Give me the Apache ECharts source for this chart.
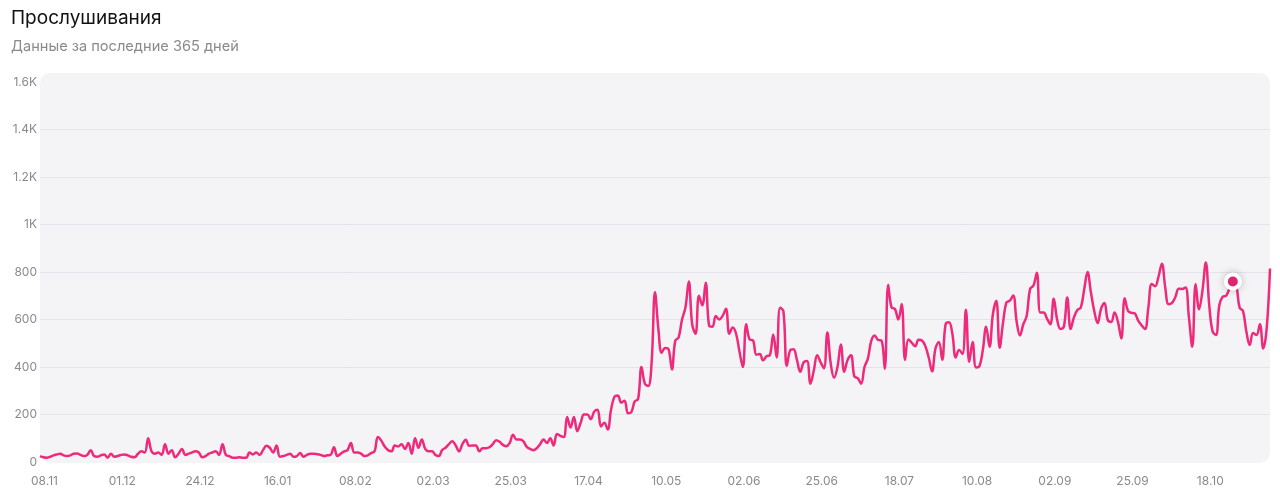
<!DOCTYPE html>
<html>
<head>
<meta charset="utf-8">
<script src="https://cdn.jsdelivr.net/npm/echarts@6/dist/echarts.min.js"></script>
<style>
html,body{margin:0;padding:0;background:#fff;}
#chart{width:1280px;height:498px;}
</style>
</head>
<body>
<div id="chart"></div>
<script>
const titleText = 'Прослушивания';
const subtitleText = 'Данные за последние 365 дней';
const startDate = '2023-11-08';
const dayCount = 365;
const yTicks = [0, 200, 400, 600, 800, 1000, 1200, 1400, 1600];
const highlightIndex = 353;

// daily listens, in blocks of 23 days (one block per x-axis label)
const block01 = [25,20,18,22,28,32,35,28,25,28,35,36,30,25,30,50,25,22,28,32,18,35,22];
const block02 = [25,30,32,28,22,20,35,45,40,100,45,35,40,30,75,35,50,20,35,55,30,35,40];
const block03 = [45,40,20,25,35,40,45,30,75,30,25,18,18,20,18,18,40,32,40,30,50,68,60];
const block04 = [40,70,22,25,30,35,22,25,38,22,30,35,35,33,30,25,28,30,62,25,35,45,50];
const block05 = [80,40,40,35,25,28,38,45,105,90,65,50,45,70,65,75,55,80,35,100,60,95,55];
const block06 = [45,45,30,25,50,60,75,87,70,45,75,94,68,70,70,45,58,58,62,75,92,85,72];
const block07 = [66,80,115,95,95,88,65,55,50,58,75,95,80,100,70,118,110,105,190,145,190,130,165];
const block08 = [200,200,180,212,220,150,165,137,221,275,280,250,258,205,210,255,265,400,330,320,420,715,560];
const block09 = [460,480,475,390,510,525,600,650,760,580,540,700,660,755,575,570,615,600,615,645,540,566,540];
const block10 = [465,400,580,516,512,452,455,428,445,450,537,440,650,635,405,470,475,430,380,420,425,330,385];
const block11 = [450,420,395,545,415,355,400,495,380,430,450,360,353,330,400,435,510,533,514,512,392,746,651];
const block12 = [645,600,665,430,516,502,487,515,512,488,440,382,478,505,431,580,588,540,440,472,455,641,422];
const block13 = [505,398,403,470,570,485,623,679,481,587,672,679,701,594,533,580,616,729,743,797,630,630,604];
const block14 = [580,687,600,560,570,693,560,610,640,650,725,800,715,635,585,645,670,598,590,630,590,520,690];
const block15 = [636,628,625,595,575,560,650,750,740,780,835,735,664,670,695,730,728,735,610,485,750,643,720];
const block16 = [840,664,550,535,660,696,700,730,760,745,650,636,550,493,543,535,580,478,560,815];

const values = [].concat(block01, block02, block03, block04, block05, block06, block07, block08,
  block09, block10, block11, block12, block13, block14, block15, block16);

const dates = [];
(function(){
  const d0 = new Date(startDate + 'T12:00:00');
  for (let i = 0; i < dayCount; i++) {
    const d = new Date(d0.getTime() + i * 86400000);
    const dd = String(d.getDate()).padStart(2,'0');
    const mm = String(d.getMonth()+1).padStart(2,'0');
    dates.push(dd + '.' + mm);
  }
})();

const pink = '#ee2a7b';
const chart = echarts.init(document.getElementById('chart'));
chart.setOption({
  animation: false,
  backgroundColor: '#ffffff',
  textStyle: { fontFamily: 'Inter, Roboto, sans-serif' },
  title: {
    text: titleText,
    subtext: subtitleText,
    left: 6, top: 4,
    itemGap: 11,
    textStyle: { fontSize: 19, fontWeight: 'normal', color: '#111111', fontFamily: 'Inter, sans-serif' },
    subtextStyle: { fontSize: 14.6, color: '#8a8a8a', fontFamily: 'Inter, sans-serif' }
  },
  graphic: [{
    type: 'rect', z: -10,
    shape: { x: 40, y: 73, width: 1230, height: 390, r: 10 },
    style: { fill: '#f4f4f6' }
  }],
  grid: { left: 40, right: 10, top: 82, bottom: 36, containLabel: false },
  xAxis: {
    type: 'category',
    data: dates,
    boundaryGap: false,
    axisLine: { show: false },
    axisTick: { show: false },
    axisLabel: { interval: 22, color: '#8a8a8a', fontSize: 12, margin: 13, padding: [0,0,0,9] },
    splitLine: { show: false }
  },
  yAxis: {
    type: 'value',
    min: yTicks[0], max: yTicks[yTicks.length-1], interval: yTicks[1]-yTicks[0],
    axisLine: { show: false },
    axisTick: { show: false },
    axisLabel: {
      color: '#8a8a8a', fontSize: 12, margin: 3,
      formatter: v => v >= 1000 ? (v/1000) + 'K' : String(v)
    },
    splitLine: { show: true, showMaxLine: false, showMinLine: false, lineStyle: { color: '#e3e3ec', width: 1 } }
  },
  series: [{
    type: 'line',
    data: values,
    smooth: 0.4,
    symbol: 'none',
    lineStyle: { color: pink, width: 2.5 },
    itemStyle: { color: pink },
    markPoint: {
      symbol: 'circle',
      symbolSize: 14,
      label: { show: false },
      itemStyle: { color: pink, borderColor: '#ffffff', borderWidth: 4, shadowBlur: 8, shadowColor: 'rgba(0,0,0,0.18)' },
      data: [{ coord: [dates[highlightIndex], values[highlightIndex]] }]
    }
  }]
});
</script>
</body>
</html>
